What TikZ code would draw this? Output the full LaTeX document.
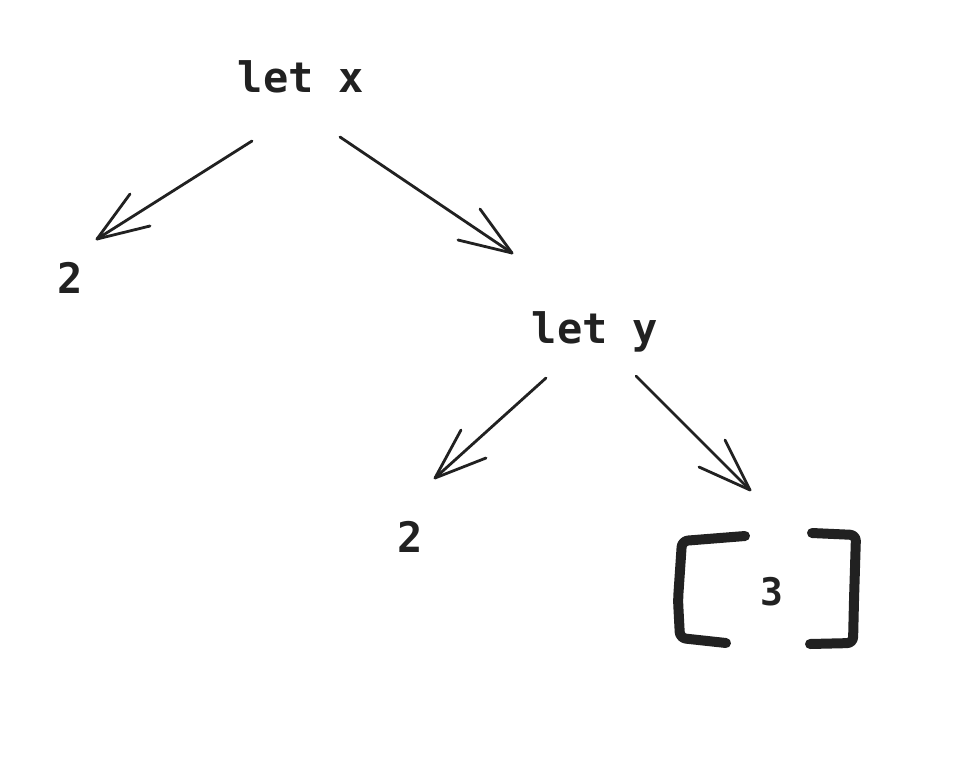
\documentclass[tikz,border=0pt]{standalone}
\usepackage{fontspec}
\setmonofont{DejaVu Sans Mono}
\begin{document}
\begin{tikzpicture}[x=0.5pt,y=-0.5pt,
  lbl/.style={font=\ttfamily\bfseries\fontsize{21}{24}\selectfont, text=black!87, inner sep=0pt, anchor=base},
  lbllight/.style={font=\ttfamily\bfseries\fontsize{19}{24}\selectfont, text=black!87, inner sep=0pt, anchor=base},
  conn/.style={draw=black!87, line width=1.4pt, line cap=round},
  brk/.style={draw=black!87, line width=5pt, line cap=round, line join=round, rounded corners=3pt}]
\useasboundingbox (0,0) rectangle (958,760);
% nodes
\node[lbl] (letx) at (301,92) {let x};
\node[lbl] (twoa) at (70,293) {2};
\node[lbl] (lety) at (595,343) {let y};
\node[lbl] (twob) at (410,552) {2};
\node[lbllight] (three) at (772,605) {3};
% arrow end points
\coordinate (a1s) at (252,141); \coordinate (a1e) at (97,239);
\coordinate (a2s) at (340,137); \coordinate (a2e) at (512,253);
\coordinate (a3s) at (546,378); \coordinate (a3e) at (435,478);
\coordinate (a4s) at (636,376); \coordinate (a4e) at (750,490);
% connectors
\draw[conn] (a1s) -- (a1e);
\draw[conn] (a1e) -- (130,194);
\draw[conn] (a1e) -- (150,226);
\draw[conn] (a2s) -- (a2e);
\draw[conn] (a2e) -- (480,209);
\draw[conn] (a2e) -- (458,240);
\draw[conn] (a3s) -- (a3e);
\draw[conn] (a3e) -- (461,430);
\draw[conn] (a3e) -- (486,458);
\draw[conn] (a4s) -- (a4e);
\draw[conn] (a4e) -- (725,440);
\draw[conn] (a4e) -- (699,467);
% brackets around 3
\draw[brk] (745,536) -- (682,541) -- (678,600) -- (680,638) -- (726,643);
\draw[brk] (812,533) -- (856,535) -- (854,600) -- (853,643) -- (810,644);
\end{tikzpicture}
\end{document}
